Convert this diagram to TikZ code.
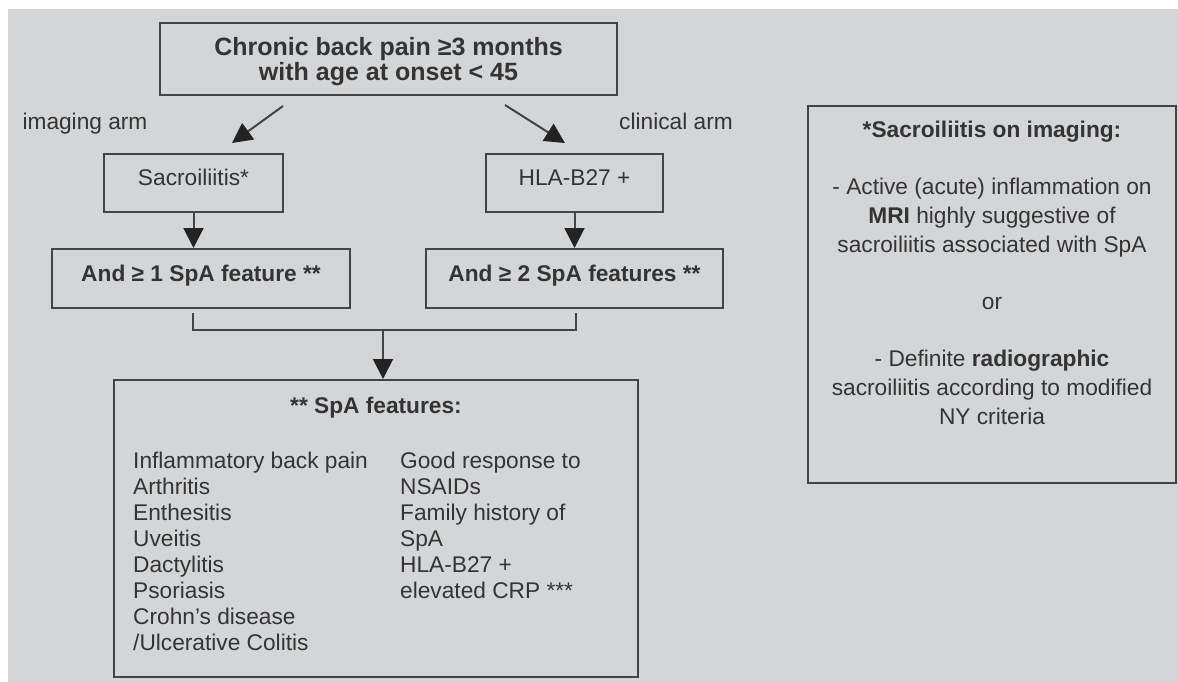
\documentclass[tikz,border=0pt]{standalone}
\usepackage{fontspec}
\setmainfont{Liberation Sans}
\usetikzlibrary{arrows.meta}
\definecolor{bgc}{RGB}{212,213,215}
\definecolor{linec}{RGB}{68,68,68}
\definecolor{tipc}{RGB}{35,35,35}
\definecolor{txc}{RGB}{52,52,52}
\begin{document}
\begin{tikzpicture}[x=1pt,y=-1pt,
  box/.style={draw=linec,line width=2pt,rectangle,inner sep=0pt,text=txc},
  conn/.style={draw=linec,line width=2pt},
  arr/.style={conn,-{Triangle[length=20pt,width=20pt,color=tipc]}},
  reg/.style={font=\fontsize{22.7}{26}\selectfont,text=txc},
  bld/.style={font=\fontsize{22.7}{26}\selectfont\bfseries,text=txc},
  one/.style={text height=16.5pt,text depth=#1},
]
\useasboundingbox (0,0) rectangle (1178,682);
\fill[white] (0,0) rectangle (1178,682);
\fill[bgc] (8,9) rectangle (1178,682);

% boxes
\node[box,minimum width=457pt,minimum height=72pt,align=center,
      font=\fontsize{25}{25}\selectfont\bfseries] (top) at (388.5,59)
      {\rule{0pt}{23.5pt}Chronic back pain ≥3 months\\with age at onset < 45};
\node[box,reg,one=11.5pt,minimum width=179pt,minimum height=58pt] (sacro) at (193.5,183) {Sacroiliitis*};
\node[box,reg,one=11.5pt,minimum width=177pt,minimum height=58pt] (hla) at (574.5,183) {HLA-B27 +};
\node[box,bld,one=10.5pt,minimum width=298pt,minimum height=59pt] (and1) at (201,278.5) {And ≥ 1 SpA feature **};
\node[box,bld,one=10.5pt,minimum width=297pt,minimum height=59pt] (and2) at (574.5,278.5) {And ≥ 2 SpA features **};
\node[box,minimum width=524pt,minimum height=297pt] (spa) at (376,528.5) {};
\node[box,minimum width=368pt,minimum height=377pt] (crit) at (992,294.5) {};

% texts inside the large boxes
\node[bld,anchor=base,inner sep=0pt] (spat) at (376,413) {** SpA features:};
\node[reg,anchor=north west,align=left,inner sep=0pt] (spal) at (133,451.5)
  {Inflammatory back pain\\Arthritis\\Enthesitis\\Uveitis\\Dactylitis\\Psoriasis\\Crohn’s disease\\/Ulcerative Colitis};
\node[reg,anchor=north west,align=left,inner sep=0pt] (spar) at (400,451.5)
  {Good response to\\NSAIDs\\Family history of\\SpA\\HLA-B27 +\\elevated CRP ***};
\node[font=\fontsize{22.7}{28.8}\selectfont,text=txc,anchor=north,align=center,inner sep=0pt] (critt) at (992,120.5)
  {\textbf{*Sacroiliitis on imaging:}\\[28.5pt]
   - Active (acute) inflammation on\\
   \textbf{MRI} highly suggestive of\\
   sacroiliitis associated with SpA\\[28.5pt]
   or\\[28.5pt]
   - Definite \textbf{radiographic}\\
   sacroiliitis according to modified\\
   NY criteria};

% arm labels
\node[reg,anchor=base,inner sep=0pt] (img) at (85,130) {imaging arm};
\node[reg,anchor=base,inner sep=0pt] (clin) at (676,130) {clinical arm};

% connectors
\coordinate (la0) at (283,106);
\coordinate (la1) at (232,143);
\coordinate (ra0) at (505,105);
\coordinate (ra1) at (565,143);
\draw[arr] (la0) -- (la1);
\draw[arr] (ra0) -- (ra1);
\draw[arr] (sacro.south) -- (sacro.south |- and1.north);
\draw[arr] (hla.south) -- (and2.north);
\coordinate (bl) at (193,313);
\coordinate (br) at (576,313);
\coordinate (bm) at (383,330);
\draw[conn] (bl) |- (bm);
\draw[conn] (br) |- (bm);
\draw[arr] (bm) -- (bm |- spa.north);
\end{tikzpicture}
\end{document}
